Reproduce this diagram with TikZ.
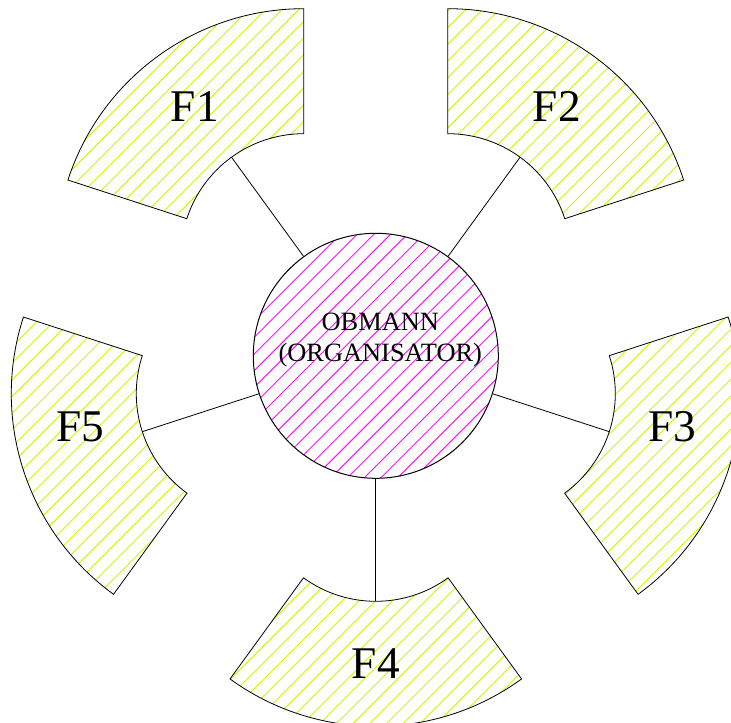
\documentclass[tikz,border=0pt]{standalone}
\usepackage{fontspec}
\setmainfont{Liberation Serif}
\usetikzlibrary{calc}
\definecolor{hatchgreen}{RGB}{205,250,0}
\definecolor{hatchmag}{RGB}{250,20,250}
\tikzset{
  outline/.style={draw=black, line width=0.6pt},
  hatchline/.style={line width=0.7pt},
  hub/.style={circle, draw=black, line width=0.75pt, minimum size=183.75pt, inner sep=0pt},
  flabel/.style={font=\fontsize{34}{40}\selectfont, inner sep=0pt},
  hubtext/.style={font=\fontsize{19.8}{23.5}\selectfont, align=center, inner sep=0pt},
  conn/.style={draw=black, line width=0.6pt}
}
\begin{document}
\begin{tikzpicture}[x=0.75pt,y=0.75pt]
\useasboundingbox (-375.8,-366.2) rectangle (355.2,355.8);
\clip (-375.8,-366.2) rectangle (355.2,355.8);
% sectors
\foreach \a/\n in {126/1,54/2,-18/3,-90/4,198/5}{
  \coordinate (p\n) at (\a:122.5);
  \coordinate (c\n) at ($(p\n)+(\a:123)$);
  \begin{scope}
    \clip ($(p\n)+(\a-36:123)$) -- ($(p\n)+(\a-36:248)$)
      arc[start angle=\a-36, end angle=\a+36, radius=248]
      -- ($(p\n)+(\a+36:123)$)
      arc[start angle=\a+36, end angle=\a-36, radius=123] -- cycle;
    \foreach \k in {-46,...,44}{
      \draw[hatchline, hatchgreen] ({11+16.7*\k-800},-800) -- ++(1600,1600);
    }
  \end{scope}
  \path[outline] ($(p\n)+(\a-36:123)$) -- ($(p\n)+(\a-36:248)$)
    arc[start angle=\a-36, end angle=\a+36, radius=248]
    -- ($(p\n)+(\a+36:123)$)
    arc[start angle=\a+36, end angle=\a-36, radius=123] -- cycle;
}
% hub hatching
\begin{scope}
  \clip (0,0) circle[radius=122.5];
  \foreach \k in {-17,...,17}{
    \draw[hatchline, hatchmag] ({10.2+16.7*\k-200},-200) -- ++(400,400);
  }
\end{scope}
% labels
\node[flabel] (f1) at ($(p1)+(126:185.5)$) {F1};
\node[flabel] (f2) at ($(p2)+(54:185.5)$) {F2};
\node[flabel] (f3) at (296.5,-71) {F3};
\node[flabel] (f4) at ($(p4)+(-90:185.5)$) {F4};
\node[flabel] (f5) at (-295.5,-71) {F5};
% hub
\node[hub] (ob) at (0,0) {};
\node[hubtext] (obt) at (4.5,15.5) {OBMANN\\(ORGANISATOR)};
% connectors
\draw[conn] (ob.126) -- (c1);
\draw[conn] (ob.54) -- (c2);
\draw[conn] (ob.-18) -- (c3);
\draw[conn] (ob.-90) -- (c4);
\draw[conn] (ob.198) -- (c5);
\end{tikzpicture}
\end{document}
